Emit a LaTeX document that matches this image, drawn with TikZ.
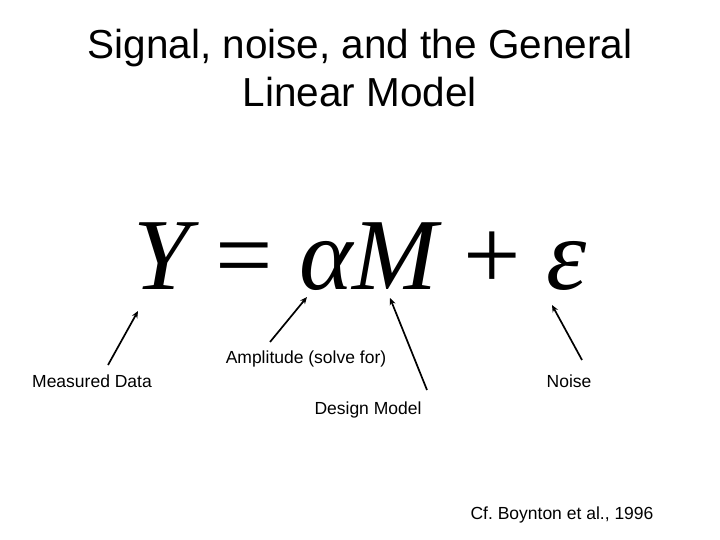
\documentclass[tikz,border=0pt]{standalone}
\usepackage{fontspec}
\setmainfont{Liberation Sans}
\newfontfamily\eqfont{Liberation Serif}
\usetikzlibrary{arrows.meta, positioning}
\frenchspacing
\tikzstyle{arrow} = [line width=1.7pt,-{Stealth[length=7pt,width=6pt]}]
\tikzstyle{title} = [anchor=base, inner sep=0pt, font=\fontsize{40.5}{48}\selectfont]
\tikzstyle{label} = [anchor=base, inner sep=0pt, font=\fontsize{17.5}{21}\selectfont]

\begin{document}
\begin{tikzpicture}[x=1pt, y=-1pt]
\useasboundingbox (0,0) rectangle (720,540);

% Title
\node (title1) [title] at (360,59) {Signal, noise, and the General};
\node (title2) [title] at (360,107) {Linear Model};

% Equation
\node (eq) [anchor=base, inner sep=0pt, font=\eqfont\fontsize{102}{110}\selectfont] at (360,289)
  {\itshape Y\upshape{} = \itshape αM\upshape{} + \itshape ε};

% Labels
\node (data) [label] at (92,387) {Measured Data};
\node (amp) [label] at (306,363) {Amplitude (solve for)};
\node (design) [label] at (368,414) {Design Model};
\node (noise) [label] at (569,387) {Noise};
\node (cite) [label] at (562,519) {Cf. Boynton et al., 1996};

% Arrow ends
\coordinate (dataA) at (108,365);
\coordinate (dataB) at (138,311);
\coordinate (ampA) at (270,342);
\coordinate (ampB) at (307,297);
\coordinate (designA) at (427,390);
\coordinate (designB) at (390,298);
\coordinate (noiseA) at (582,360);
\coordinate (noiseB) at (552,305);

\draw [arrow] (dataA) -- (dataB);
\draw [arrow] (ampA) -- (ampB);
\draw [arrow] (designA) -- (designB);
\draw [arrow] (noiseA) -- (noiseB);

\end{tikzpicture}
\end{document}
